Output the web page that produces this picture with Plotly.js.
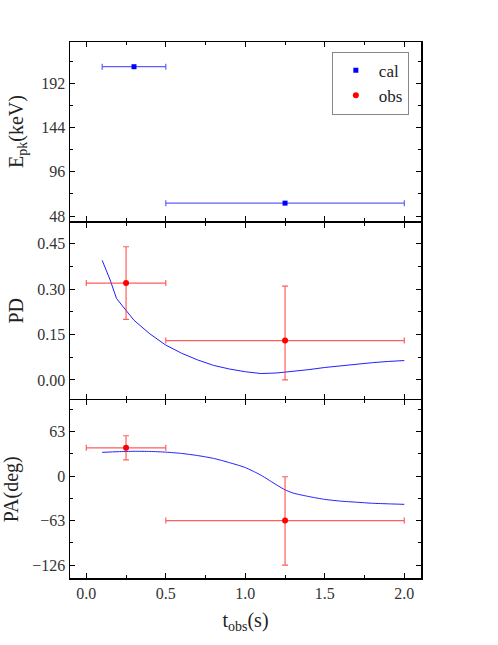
<!DOCTYPE html>
<html>
<head>
<meta charset="utf-8">
<script src="https://cdn.plot.ly/plotly-3.0.1.min.js"></script>
<style>
  html, body { margin: 0; padding: 0; background: #fff; }
  #grafico { width: 498px; height: 645px; }
</style>
</head>
<body>
<div id="grafico"></div>
<script>
// Epk (cal)
const epkT = [0.3, 1.25];
const epkVal = [210, 62];
const epkTMinus = [0.2, 0.75];
const epkTPlus = [0.2, 0.75];

// PD observado
const pdObsT = [0.25, 1.25];
const pdObs = [0.32, 0.13];
const pdObsMinus = [0.12, 0.13];
const pdObsPlus = [0.12, 0.18];

// PD modelo
const pdCurvaT = [0.1, 0.15, 0.19, 0.25, 0.3, 0.4, 0.5, 0.6, 0.7, 0.8, 0.9, 1.0, 1.1, 1.2, 1.3, 1.4, 1.5, 1.6, 1.7, 1.8, 1.9, 2.0];
const pdCurva = [0.395, 0.33, 0.269, 0.228, 0.197, 0.152, 0.115, 0.088, 0.066, 0.048, 0.036, 0.027, 0.021, 0.023, 0.028, 0.034, 0.041, 0.047, 0.052, 0.057, 0.061, 0.064];

// PA observado
const paObsT = [0.25, 1.25];
const paObs = [40, -63];
const paObsMinus = [17, 63];
const paObsPlus = [17, 62];

// PA modelo
const paCurvaT = [0.1, 0.2, 0.3, 0.4, 0.5, 0.6, 0.7, 0.8, 0.9, 1.0, 1.1, 1.2, 1.25, 1.3, 1.4, 1.5, 1.6, 1.7, 1.8, 1.9, 2.0];
const paCurva = [33.5, 34.5, 35, 34.8, 33.8, 32, 29, 25, 19, 12, 1, -13, -19.5, -24, -29, -33, -35.5, -37, -38.5, -39.3, -40];

// meia largura das barras em t
const obsTErro = [0.25, 0.75];

const fonteSerif = "Liberation Serif, serif";
const vermelho = "#ff0000";
const vermelhoBarra = "rgba(255,40,40,0.75)";
const azul = "#0000ff";

const eixoBase = {
    showline: true,
    linecolor: "#000",
    linewidth: 1.5,
    mirror: "allticks",
    ticks: "inside",
    ticklen: 5,
    tickwidth: 1,
    tickcolor: "#000",
    showgrid: false,
    zeroline: false,
    tickfont: { family: fonteSerif, size: 16, color: "#333" },
};

const eixoX = {
    ...eixoBase,
    range: [-0.1025, 2.105],
    tick0: 0,
    dtick: 0.5,
    minor: { ticks: "inside", ticklen: 3, tickwidth: 1, tickcolor: "#000", dtick: 0.25, tick0: 0 },
};

const traces = [
    {
        x: epkT, y: epkVal,
        xaxis: "x", yaxis: "y",
        mode: "markers",
        name: "cal",
        marker: { symbol: "square", size: 5, color: azul },
        error_x: { type: "data", symmetric: false, array: epkTPlus, arrayminus: epkTMinus, color: "rgba(40,40,255,0.75)", thickness: 1.2, width: 3 },
    },
    {
        x: pdCurvaT, y: pdCurva,
        xaxis: "x2", yaxis: "y2",
        mode: "lines",
        showlegend: false,
        line: { color: "#2020ff", width: 1 },
    },
    {
        x: pdObsT, y: pdObs,
        xaxis: "x2", yaxis: "y2",
        mode: "markers",
        name: "obs",
        marker: { symbol: "circle", size: 6, color: vermelho },
        error_x: { type: "data", symmetric: false, array: obsTErro, arrayminus: obsTErro, color: vermelhoBarra, thickness: 1.2, width: 3 },
        error_y: { type: "data", symmetric: false, array: pdObsPlus, arrayminus: pdObsMinus, color: vermelhoBarra, thickness: 1.2, width: 3 },
    },
    {
        x: paCurvaT, y: paCurva,
        xaxis: "x3", yaxis: "y3",
        mode: "lines",
        showlegend: false,
        line: { color: "#2020ff", width: 1, shape: "spline", smoothing: 0.6 },
    },
    {
        x: paObsT, y: paObs,
        xaxis: "x3", yaxis: "y3",
        mode: "markers",
        showlegend: false,
        marker: { symbol: "circle", size: 6, color: vermelho },
        error_x: { type: "data", symmetric: false, array: obsTErro, arrayminus: obsTErro, color: vermelhoBarra, thickness: 1.2, width: 3 },
        error_y: { type: "data", symmetric: false, array: paObsPlus, arrayminus: paObsMinus, color: vermelhoBarra, thickness: 1.2, width: 3 },
    },
];

const tituloFonte = { family: fonteSerif, size: 20, color: "#222" };

const layout = {
    width: 498,
    height: 645,
    paper_bgcolor: "#fff",
    plot_bgcolor: "rgba(0,0,0,0)",
    margin: { t: 42, r: 77, b: 67, l: 70 },
    showlegend: true,
    legend: {
        x: 0.746, y: 0.982, xanchor: "left", yanchor: "top",
        bordercolor: "#888", borderwidth: 1, bgcolor: "#fff",
        font: { family: fonteSerif, size: 17, color: "#222" },
        itemwidth: 36,
    },
    xaxis: { ...eixoX, domain: [0, 1], anchor: "y", showticklabels: false },
    xaxis2: { ...eixoX, domain: [0, 1], anchor: "y2", matches: "x", showticklabels: false },
    xaxis3: {
        ...eixoX, domain: [0, 1], anchor: "y3", matches: "x",
        tickformat: ".1f",
        title: { text: "t<sub>obs</sub>(s)", font: tituloFonte, standoff: 12 },
    },
    yaxis: {
        ...eixoBase, domain: [0.666, 1], anchor: "x",
        range: [42.6, 236.8], tick0: 0, dtick: 48,
        minor: { ticks: "inside", ticklen: 3, tickwidth: 1, tickcolor: "#000", dtick: 24, tick0: 0 },
        title: { text: "E<sub>pk</sub>(keV)", font: tituloFonte, standoff: 12 },
    },
    yaxis2: {
        ...eixoBase, domain: [0.334, 0.6632], anchor: "x2",
        range: [-0.063, 0.52], tick0: 0, dtick: 0.15, tickformat: ".2f",
        minor: { ticks: "inside", ticklen: 3, tickwidth: 1, tickcolor: "#000", dtick: 0.075, tick0: 0 },
        title: { text: "PD", font: tituloFonte, standoff: 8 },
    },
    yaxis3: {
        ...eixoBase, domain: [0, 0.3312], anchor: "x3",
        range: [-144.2, 106.9], tick0: 0, dtick: 63,
        minor: { ticks: "inside", ticklen: 3, tickwidth: 1, tickcolor: "#000", dtick: 31.5, tick0: 0 },
        title: { text: "PA(deg)", font: tituloFonte, standoff: 8 },
    },
};

Plotly.newPlot("grafico", traces, layout, { displayModeBar: false, staticPlot: true });
</script>
</body>
</html>
